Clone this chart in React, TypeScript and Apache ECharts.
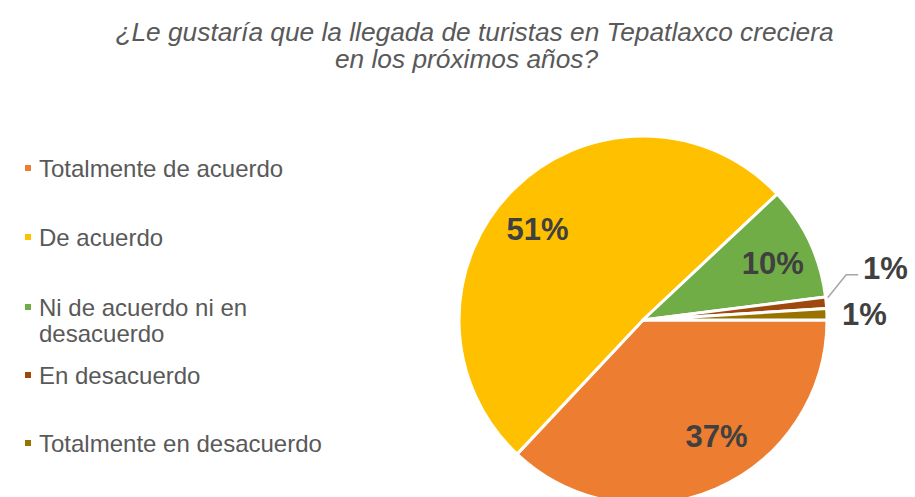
import React, { useEffect, useRef } from "react";
import * as echarts from "echarts";

const titleLines = [
  "¿Le gustaría que la llegada de turistas en Tepatlaxco creciera",
  "en los próximos años?",
];
const categories = [
  "Totalmente de acuerdo",
  "De acuerdo",
  "Ni de acuerdo ni en desacuerdo",
  "En desacuerdo",
  "Totalmente en desacuerdo",
];
const values = [37, 51, 10, 1, 1];
const colors = ["#ED7D31", "#FFC000", "#70AD47", "#9E480E", "#997300"];

const FONT = "'Liberation Sans', Arial, sans-serif";
// layout only
const legendTops = [155, 224, 268, 362, 430];
const insideLabel = [true, true, true, false, false];
const insideShift = [
  [18, -11.5],
  [-6.5, 8],
  [3, 3.5],
  [0, 0],
  [0, 0],
];

export default function App() {
  const ref = useRef<HTMLDivElement>(null);
  useEffect(() => {
    if (!ref.current) return;
    const chart = echarts.init(ref.current, undefined, { renderer: "svg" });
    const legends = categories.map((name, i) => ({
      orient: "vertical",
      left: 23,
      top: legendTops[i],
      padding: 0,
      data: [name],
      icon: "rect",
      itemWidth: 8,
      itemHeight: 8,
      selectedMode: false,
      formatter: (n: string) => (i === 2 ? "\n" + n : n),
      textStyle: {
        fontFamily: FONT,
        fontSize: 24,
        color: "#595959",
        lineHeight: 26,
        width: i === 2 ? 232 : undefined,
        overflow: i === 2 ? "break" : undefined,
        padding: [0, 0, 0, 2],
      },
    }));
    chart.setOption({
      animation: false,
      color: colors,
      graphic: [
        {
          type: "text",
          x: 474.5,
          y: 31.5,
          style: {
            text: titleLines[0],
            font: `italic 26.3px ${FONT}`,
            fill: "#595959",
            align: "center",
            verticalAlign: "middle",
          },
        },
        {
          type: "text",
          x: 466.5,
          y: 58.5,
          style: {
            text: titleLines[1],
            font: `italic 26.3px ${FONT}`,
            fill: "#595959",
            align: "center",
            verticalAlign: "middle",
          },
        },
      ],
      legend: legends,
      series: [
        {
          type: "pie",
          center: [643, 320],
          radius: 184,
          startAngle: 0,
          clockwise: true,
          percentPrecision: 0,
          avoidLabelOverlap: false,
          itemStyle: { borderColor: "#ffffff", borderWidth: 3 },
          label: {
            position: "outside",
            formatter: "{d}%",
            fontFamily: FONT,
            fontSize: 31,
            fontWeight: "bold",
            color: "#404040",
          },
          labelLine: { lineStyle: { color: "#A6A6A6", width: 1.5 }, length: 20, length2: 12 },
          labelLayout: (p: any) => {
            if (p.dataIndex === 3 && p.labelLinePoints) {
              const [x0, y0] = p.labelLinePoints[0];
              return {
                dy: -32,
                labelLinePoints: [
                  [x0 + 1.5, y0 - 5],
                  [x0 + 20, y0 - 28],
                  [x0 + 32, y0 - 28],
                ],
              };
            }
            return {};
          },
          emphasis: { disabled: true },
          data: categories.map((name, i) => ({
            name,
            value: values[i],
            label: { show: !insideLabel[i] },
            labelLine: i === 4 ? { show: false, length: 4, length2: 6 } : undefined,
          })),
        },
        {
          type: "pie",
          center: [643, 320],
          radius: [90, 184],
          startAngle: 0,
          clockwise: true,
          silent: true,
          percentPrecision: 0,
          itemStyle: { color: "rgba(0,0,0,0)", borderWidth: 0 },
          label: {
            position: "inside",
            formatter: "{d}%",
            fontFamily: FONT,
            fontSize: 31,
            fontWeight: "bold",
            color: "#404040",
          },
          labelLayout: (p: any) => ({ dx: insideShift[p.dataIndex][0], dy: insideShift[p.dataIndex][1] }),
          labelLine: { show: false },
          emphasis: { disabled: true },
          data: categories.map((name, i) => ({
            name,
            value: values[i],
            label: { show: insideLabel[i] },
          })),
        },
      ],
    });
    return () => chart.dispose();
  }, []);
  return (
    <div
      ref={ref}
      style={{ position: "fixed", left: 0, top: 0, width: 915, height: 497, background: "#fff" }}
    />
  );
}
